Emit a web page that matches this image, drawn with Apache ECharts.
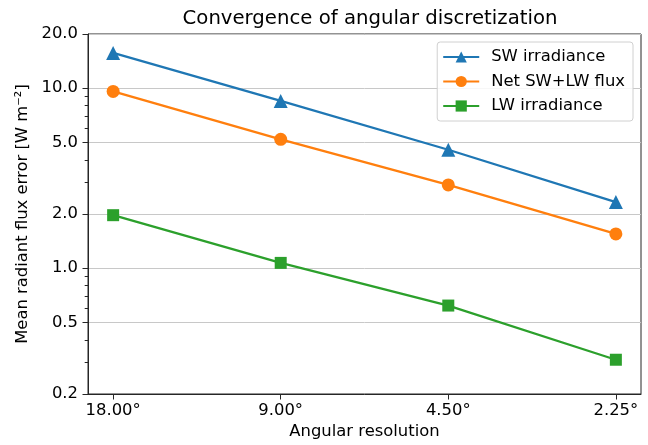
<!DOCTYPE html>
<html>
<head>
<meta charset="utf-8">
<script src="https://cdn.jsdelivr.net/npm/echarts@6/dist/echarts.min.js"></script>
<style>html,body{margin:0;padding:0;background:#fff;}#c{width:648px;height:445px;}</style>
</head>
<body>
<div id="c"></div>
<script>
const categories = ['18.00°', '9.00°', '4.50°', '2.25°'];
const swIrradiance = [15.7, 8.5, 4.55, 2.33];
const netFlux = [9.6, 5.2, 2.9, 1.55];
const lwIrradiance = [1.97, 1.07, 0.62, 0.31];
const yMajorTicks = [0.2, 0.5, 1, 2, 5, 10, 20];
const yMinorTicks = [0.3, 0.4, 0.6, 0.7, 0.8, 0.9, 3, 4, 6, 7, 8, 9];

const font = 'DejaVu Sans';
const fs = 16.4;
const chart = echarts.init(document.getElementById('c'), null, {renderer: 'canvas'});
const toPairs = arr => arr.map((v, i) => [i, v]);
const mk = (name, data, color, symbol, size) => ({
  name, type: 'line', data: toPairs(data), yAxisIndex: 0,
  symbol, symbolSize: size, showSymbol: true,
  lineStyle: {color, width: 2.3}, itemStyle: {color},
  emphasis: {disabled: true}, z: 3
});
chart.setOption({
  animation: false,
  backgroundColor: '#fff',
  textStyle: {fontFamily: font},
  title: {
    text: 'Convergence of angular discretization', left: 365, top: 4, textAlign: 'center',
    textStyle: {fontFamily: font, fontSize: 19.7, fontWeight: 'normal', color: '#000'}
  },
  legend: {
    right: 15, top: 42, orient: 'vertical',
    itemWidth: 36, itemHeight: 14, itemGap: 8.5,
    padding: [7, 8, 7, 5],
    borderColor: '#d0d0d0', borderWidth: 1, borderRadius: 3,
    backgroundColor: 'rgba(255,255,255,0.85)',
    textStyle: {fontFamily: font, fontSize: fs, color: '#000', padding: [0, 0, 0, 7]},
    data: ['SW irradiance', 'Net SW+LW flux', 'LW irradiance']
  },
  grid: {left: 88, right: 7, top: 34, bottom: 51, show: true, borderColor: '#262626', borderWidth: 1, backgroundColor: 'transparent'},
  xAxis: {
    type: 'value', min: -0.15, max: 3.15,
    name: 'Angular resolution', nameLocation: 'middle', nameGap: 30,
    nameTextStyle: {fontFamily: font, fontSize: fs, color: '#000'},
    axisLine: {show: true, onZero: false, lineStyle: {color: '#262626'}},
    axisTick: {show: true, inside: false, length: 5.5, customValues: [0, 1, 2, 3], lineStyle: {color: '#262626'}},
    axisLabel: {show: true, customValues: [0, 1, 2, 3], formatter: v => categories[Math.round(v)], fontFamily: font, fontSize: fs, color: '#000', margin: 9},
    splitLine: {show: false}
  },
  yAxis: [{
    type: 'log', logBase: 10, min: 0.2, max: 20,
    name: 'Mean radiant flux error [W m\u207B\u00B2]', nameLocation: 'middle', nameGap: 56,
    nameTextStyle: {fontFamily: font, fontSize: fs, color: '#000'},
    axisLine: {show: true, onZero: false, lineStyle: {color: '#262626'}},
    axisTick: {show: true, inside: false, length: 5.5, customValues: yMajorTicks, lineStyle: {color: '#262626'}},
    axisLabel: {show: true, customValues: yMajorTicks, formatter: v => Number(v).toFixed(1), fontFamily: font, fontSize: fs, color: '#000', margin: 10},
    splitLine: {show: true, lineStyle: {color: '#c8c8c8', width: 1}}
  }, {
    type: 'log', logBase: 10, min: 0.2, max: 20, position: 'left',
    axisLine: {show: false, onZero: false},
    axisTick: {show: true, inside: false, length: 3.3, customValues: yMinorTicks, lineStyle: {color: '#262626'}},
    axisLabel: {show: false},
    splitLine: {show: false}
  }],
  series: [
    mk('SW irradiance', swIrradiance, '#1f77b4', 'triangle', 14),
    mk('Net SW+LW flux', netFlux, '#ff7f0e', 'circle', 13),
    mk('LW irradiance', lwIrradiance, '#2ca02c', 'rect', 12)
  ]
});
</script>
</body>
</html>
